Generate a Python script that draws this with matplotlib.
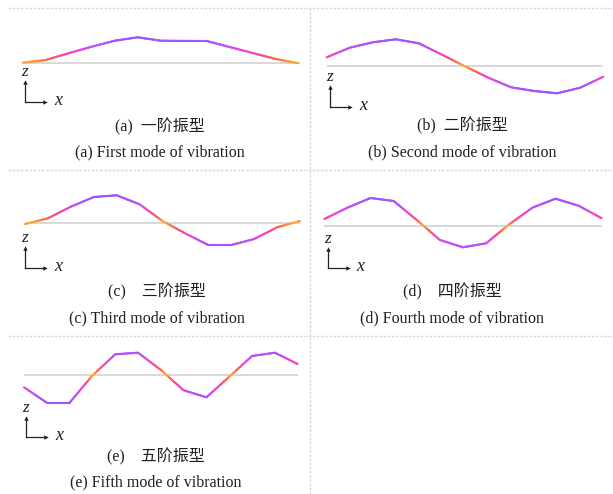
import numpy as np
import matplotlib
matplotlib.use("Agg")
import matplotlib.pyplot as plt
from matplotlib.collections import LineCollection
from matplotlib.colors import LinearSegmentedColormap
from matplotlib.lines import Line2D

# ---------------- data ----------------
nodes = list(range(13))
mode1 = [0, 2.7, 9.5, 16, 22, 25.4, 22, 21.8, 21.7, 15.7, 9.7, 3.7, -0.6]
mode2 = [8.7, 18.3, 23.7, 26.7, 22.7, 11.3, -0.3, -11.6, -21.3, -25, -27.3, -21.7, -10.7]
mode3 = [-1.5, 4.2, 15.8, 25.5, 27.2, 18.2, 1.5, -11, -22.5, -22.5, -16.5, -4.8, 1.5]
mode4 = [6.7, 18, 27.7, 24.7, 5.7, -14.3, -21.6, -17.6, 1.4, 18, 27, 20, 7.4]
mode5 = [-12.8, -28.2, -28.2, -1, 20.2, 21.8, 4.5, -15.8, -22.8, -2.2, 18.5, 21.8, 10.5]

cn_labels = ["(a)  一阶振型", "(b)  二阶振型", "(c)    三阶振型", "(d)    四阶振型", "(e)    五阶振型"]
en_labels = ["(a) First mode of vibration", "(b) Second mode of vibration",
             "(c) Third mode of vibration", "(d) Fourth mode of vibration",
             "(e) Fifth mode of vibration"]

# ---------------- layout ----------------
W, H = 613, 494
fig = plt.figure(figsize=(W / 100, H / 100), dpi=100)
fig.patch.set_facecolor("white")

cmap = LinearSegmentedColormap.from_list(
    "mode", [(0.0, "#ffad35"), (0.14, "#ff6a48"), (0.3, "#ff4890"),
             (0.46, "#ee48da"), (0.66, "#bd50f6"), (1.0, "#9a55ff")])

def fx(x):
    return x / W

def fy(y):
    return 1 - y / H

# panel geometry (pixels): x0, x1, baseline y
geom = [(22.7, 298.7, 62.7), (326.7, 603.3, 66.0), (25.0, 300.0, 222.5),
        (324.3, 601.7, 225.7), (24.0, 297.7, 374.5)]
icons = [  # corner x, corner y
    (25.0, 101.7), (330.0, 106.7), (25.0, 267.7), (327.7, 268.3), (26.0, 437.3)]
caps = [  # center x, cn y, en y
    (160, 127, 152), (462, 126, 152), (157, 292, 318), (452, 292, 318), (156, 457, 482)]

modes = [mode1, mode2, mode3, mode4, mode5]
half = 40

for (x0, x1, base), vals in zip(geom, modes):
    ax = fig.add_axes([fx(x0), fy(base + half), (x1 - x0) / W, 2 * half / H])
    ax.set_xlim(nodes[0], nodes[-1])
    ax.set_ylim(-half, half)
    ax.axis("off")
    ax.plot([nodes[0], nodes[-1]], [0, 0], color="#d6d6d6", lw=1.3, zorder=1,
            solid_capstyle="butt")
    xs = np.asarray(nodes, float)
    ys = np.asarray(vals, float)
    # subdivide each straight segment only for a smooth colour gradient
    fx_pts, fy_pts = [], []
    for i in range(len(xs) - 1):
        t = np.linspace(0, 1, 20, endpoint=False)
        fx_pts.extend(xs[i] + t * (xs[i + 1] - xs[i]))
        fy_pts.extend(ys[i] + t * (ys[i + 1] - ys[i]))
    fx_pts.append(xs[-1]); fy_pts.append(ys[-1])
    fx_pts = np.array(fx_pts); fy_pts = np.array(fy_pts)
    pts = np.column_stack([fx_pts, fy_pts]).reshape(-1, 1, 2)
    segs = np.concatenate([pts[:-1], pts[1:]], axis=1)
    amp = np.abs((fy_pts[:-1] + fy_pts[1:]) / 2) / np.max(np.abs(ys))
    lc = LineCollection(segs, colors=cmap(amp), linewidths=1.5, zorder=3,
                        capstyle="round", joinstyle="round")
    lc.set_clip_on(False)
    ax.add_collection(lc)

# axis icons
ic = "#222222"
for cx, cy in icons:
    fig.add_artist(Line2D([fx(cx), fx(cx)], [fy(cy), fy(cy - 19)], color=ic, lw=0.9))
    fig.add_artist(Line2D([fx(cx), fx(cx + 19)], [fy(cy), fy(cy)], color=ic, lw=0.9))
    fig.add_artist(Line2D([fx(cx)], [fy(cy - 19.5)], marker="^", markersize=3.2,
                          color=ic, markeredgewidth=0, linestyle="none"))
    fig.add_artist(Line2D([fx(cx + 20)], [fy(cy)], marker=">", markersize=3.2,
                          color=ic, markeredgewidth=0, linestyle="none"))
    fig.text(fx(cx - 0.5), fy(cy - 29.5), "z", fontsize=12.5, fontstyle="italic",
             family="Liberation Serif", ha="center", va="center", color=ic)
    fig.text(fx(cx + 33), fy(cy - 1.5), "x", fontsize=13, fontstyle="italic",
             family="Liberation Serif", ha="center", va="center", color=ic)

# captions
for (cx, ycn, yen), cn, en in zip(caps, cn_labels, en_labels):
    fig.text(fx(cx), fy(ycn), cn, fontsize=11.5, ha="center", va="center",
             family=["Liberation Serif", "Noto Sans CJK SC"], color="#1e1e1e")
    fig.text(fx(cx), fy(yen), en, fontsize=11.5, ha="center", va="center",
             family="Liberation Serif", color="#1e1e1e")

# cell borders (dotted light grey)
bstyle = dict(color="#d9d9d9", lw=1.0, linestyle=(0, (2, 1)))
for yy in (8, 170, 336):
    fig.add_artist(Line2D([fx(8), fx(613)], [fy(yy), fy(yy)], **bstyle))
fig.add_artist(Line2D([fx(310), fx(310)], [fy(8), fy(494)], **bstyle))

fig.savefig("out.png", dpi=100, facecolor="white")
